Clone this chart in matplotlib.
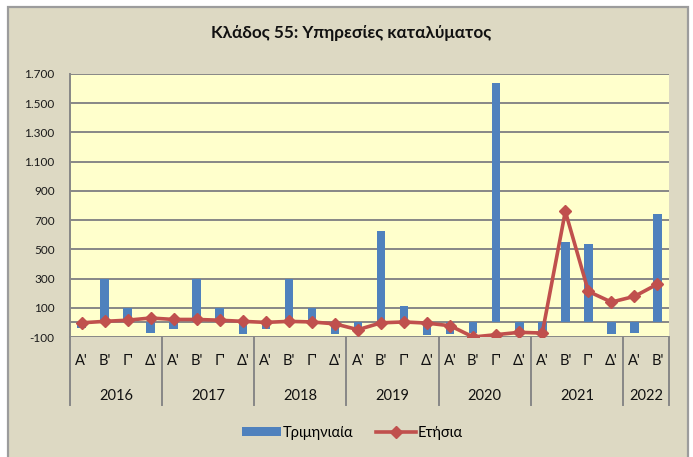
import matplotlib
matplotlib.use("Agg")
import matplotlib.pyplot as plt
from matplotlib.patches import Rectangle, Patch
from matplotlib.lines import Line2D
from matplotlib.ticker import FuncFormatter

plt.rcParams['font.family'] = ['Lato', 'Noto Sans', 'DejaVu Sans']

years = ['2016', '2017', '2018', '2019', '2020', '2021', '2022']
quarters_per_year = [4, 4, 4, 4, 4, 4, 2]
quarter_names = ["Α'", "Β'", "Γ'", "Δ'"]

quarterly = [-35, 300, 100, -75,
             -45, 295, 100, -80,
             -45, 300, 100, -80,
             -45, 628, 110, -89,
             -80, -73, 1637, -73,
             -80, 550, 537, -80,
             -73, 742]
annual = [-3, 7, 15, 30,
          20, 20, 15, 7,
          0, 7, 3, -10,
          -50, -3, 3, -5,
          -23, -100, -84, -68,
          -73, 760, 212, 139,
          178, 262]

BLUE = '#4F81BD'
RED = '#C0504D'
BEIGE = '#DDD9C3'
YELLOW = '#FFFFCC'
GRID = '#878787'

W, H = 693, 457
fig = plt.figure(figsize=(W / 100, H / 100), dpi=100)
fig.patch.set_facecolor('white')
fig.patches.append(Rectangle((8 / W, -0.05), 680 / W, 1.05 - 7 / H,
                             transform=fig.transFigure, facecolor=BEIGE,
                             edgecolor='#9C9C9C', linewidth=1.6, zorder=-10))

left, right, top, bottom = 70, 669, 74, 337
ax = fig.add_axes([left / W, 1 - bottom / H, (right - left) / W, (bottom - top) / H])
ax.set_zorder(1)
ax.set_facecolor(YELLOW)

n = len(quarterly)
x = list(range(n))
ax.bar(x, quarterly, width=0.37, color=BLUE, zorder=3)
ax.plot(x, annual, color=RED, linewidth=2.6, marker='D', markersize=6.2,
        markerfacecolor=RED, markeredgecolor=RED, zorder=4)

ax.set_xlim(-0.5, n - 0.5)
ax.set_ylim(-100, 1700)
yt = list(range(-100, 1701, 200))
ax.set_yticks(yt)
ax.yaxis.set_major_formatter(FuncFormatter(lambda v, p: f"{int(v):,}".replace(',', '.')))
ax.tick_params(axis='y', length=0, pad=11, labelsize=8.5, colors='#1A1A1A')
ax.set_xticks([])
for v in yt:
    ax.axhline(v, color=GRID, linewidth=1.4, zorder=1)
ax.axhline(0, color=GRID, linewidth=1.4, zorder=2)

for s in ['top', 'right', 'bottom']:
    ax.spines[s].set_visible(False)
ax.spines['left'].set_color(GRID)
ax.spines['left'].set_linewidth(1.4)

trans = ax.get_xaxis_transform()
sep_bottom = -(405 - bottom) / (bottom - top)
q_y = -(361 - bottom) / (bottom - top)
y_y = -(396 - bottom) / (bottom - top)

pos = -0.5
idx = 0
seps = [pos]
for yr, nq in zip(years, quarters_per_year):
    for q in range(nq):
        ax.text(idx, q_y, quarter_names[q], transform=trans, ha='center', va='center',
                fontsize=10.5, color='#111111')
        idx += 1
    ax.text(pos + nq / 2, y_y, yr, transform=trans, ha='center', va='center',
            fontsize=10.5, color='#111111')
    pos += nq
    seps.append(pos)
for s in seps:
    ax.plot([s, s], [0, sep_bottom], transform=trans, color=GRID, linewidth=1.4,
            clip_on=False, zorder=1)

fig.text(351 / W, 1 - 33 / H, 'Κλάδος 55: Υπηρεσίες καταλύματος', ha='center', va='center',
         fontsize=12.3, fontweight='bold', color='#111111')

handles = [Patch(facecolor=BLUE, edgecolor='none'),
           Line2D([0], [0], color=RED, linewidth=2.6, marker='D', markersize=6.2)]
fig.legend(handles, ['Τριμηνιαία', 'Ετήσια'], loc='center', bbox_to_anchor=(352 / W, 1 - 433 / H),
           ncol=2, frameon=False, fontsize=10.5, handlelength=2.7, handleheight=0.6,
           handletextpad=0.1, columnspacing=1.6)

fig.savefig('out.png', dpi=100, facecolor=fig.get_facecolor())
